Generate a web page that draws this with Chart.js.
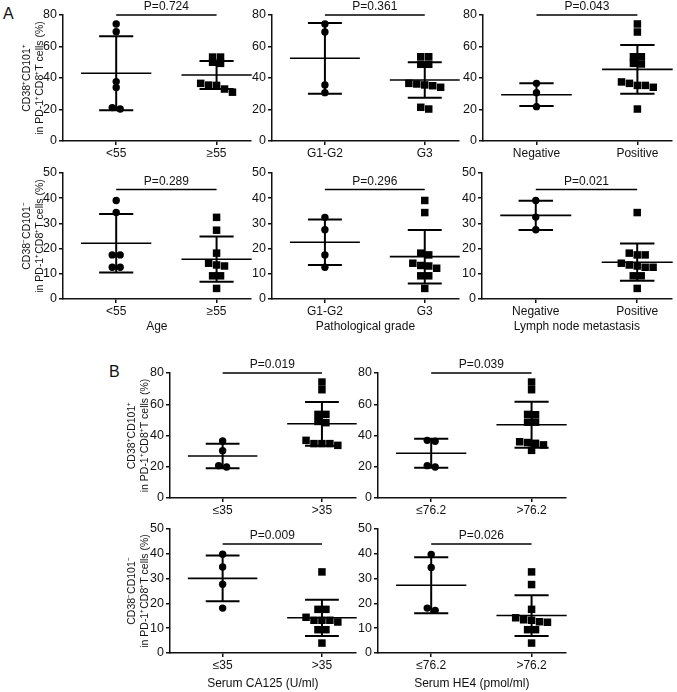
<!DOCTYPE html>
<html>
<head>
<meta charset="utf-8">
<script src="https://cdn.jsdelivr.net/npm/chart.js@4.4.1/dist/chart.umd.min.js"></script>
<style>
  body { margin: 0; background: #fff; }
  #fig { position: relative; width: 677px; height: 692px; overflow: hidden; font-family: "Liberation Sans", Arial, sans-serif; }
  #fig canvas { position: absolute; }
  .lbl { position: absolute; font-size: 16px; line-height: 1; color: #111; }
</style>
</head>
<body>
<div id="fig">
  <div class="lbl" style="left:3px;top:6px">A</div>
  <div class="lbl" style="left:109px;top:364px">B</div>
</div>
<script>
// categorias
const ageCats = ['<55', '≥55'];
const gradeCats = ['G1-G2', 'G3'];
const lymphCats = ['Negative', 'Positive'];
const ca125Cats = ['≤35', '>35'];
const he4Cats = ['≤76.2', '>76.2'];

// CD38+CD101+
const agePos1 = [74.3, 69.4, 37.7, 34.0, 21.2, 20.3];
const agePos2 = [53.3, 53.3, 50.0, 49.3, 36.6, 35.5, 35.3, 33.0, 31.0];
const agePosMean = [43.0, 41.9];
const agePosSd = [23.5, 8.9];
const agePosP = 'P=0.724';

const gradePos1 = [74.3, 69.2, 35.6, 30.7];
const gradePos2 = [53.5, 53.5, 48.7, 48.7, 36.6, 35.1, 34.1, 35.6, 36.2, 20.3, 21.4];
const gradePosMean = [52.5, 38.7];
const gradePosSd = [22.5, 11.3];
const gradePosP = 'P=0.361';

const lymphPos1 = [36.6, 30.7, 21.8];
const lymphPos2 = [74.3, 69.2, 53.5, 53.5, 48.9, 49.3, 36.6, 35.3, 34.1, 35.3, 37.5, 20.3];
const lymphPosMean = [29.4, 45.5];
const lymphPosSd = [7.2, 15.5];
const lymphPosP = 'P=0.043';

const ca125Pos1 = [36.5, 30.3, 19.8, 20.7];
const ca125Pos2 = [74.2, 69.3, 53.5, 53.5, 49.0, 48.2, 36.9, 34.8, 33.7, 34.8, 34.8];
const ca125PosMean = [26.9, 47.5];
const ca125PosSd = [7.8, 14.0];
const ca125PosP = 'P=0.019';

const he4Pos1 = [36.9, 36.3, 19.8, 20.7];
const he4Pos2 = [74.2, 69.3, 53.5, 53.3, 48.5, 48.5, 36.0, 35.5, 35.0, 34.0, 30.5];
const he4PosMean = [28.6, 46.9];
const he4PosSd = [9.3, 14.7];
const he4PosP = 'P=0.039';

// CD38-CD101-
const ageNeg1 = [39.1, 34.3, 17.5, 17.5, 12.6, 12.6];
const ageNeg2 = [32.4, 27.3, 18.2, 14.2, 13.1, 13.5, 9.2, 9.2, 4.2];
const ageNegMean = [22.1, 15.8];
const ageNegSd = [11.6, 9.0];
const ageNegP = 'P=0.289';

const gradeNeg1 = [32.4, 27.5, 17.5, 12.6];
const gradeNeg2 = [39.1, 34.3, 18.2, 17.5, 13.3, 12.2, 13.1, 14.2, 9.2, 9.2, 4.2];
const gradeNegMean = [22.5, 16.8];
const gradeNegSd = [9.0, 10.6];
const gradeNegP = 'P=0.296';

const lymphNeg1 = [39.1, 32.5, 27.5];
const lymphNeg2 = [34.3, 17.5, 17.5, 18.2, 14.2, 13.1, 12.6, 12.6, 13.5, 9.2, 9.2, 4.2];
const lymphNegMean = [33.2, 14.6];
const lymphNegSd = [5.8, 7.4];
const lymphNegP = 'P=0.021';

const ca125Neg1 = [39.8, 34.7, 27.7, 18.1];
const ca125Neg2 = [32.7, 17.6, 17.6, 14.4, 13.2, 12.5, 13.2, 13.2, 9.4, 9.4, 4.0];
const ca125NegMean = [30.1, 14.2];
const ca125NegSd = [9.2, 7.3];
const ca125NegP = 'P=0.009';

const he4Neg1 = [39.7, 34.5, 17.2, 18.1];
const he4Neg2 = [32.7, 27.6, 17.6, 14.2, 13.2, 12.4, 12.6, 13.4, 9.4, 9.4, 4.0];
const he4NegMean = [27.3, 15.1];
const he4NegSd = [11.3, 8.2];
const he4NegP = 'P=0.026';

const posTitle = ['CD38⁺CD101⁺', 'in PD-1⁺CD8⁺T cells (%)'];
const negTitle = ['CD38⁻CD101⁻', 'in PD-1⁺CD8⁺T cells (%)'];

Chart.defaults.font.family = '"Liberation Sans", Arial, sans-serif';
Chart.defaults.font.size = 12;
Chart.defaults.color = '#111';

// paineis: dados + posicao na figura
const panels = [
  { cats: ageCats, g1: agePos1, g2: agePos2, mean: agePosMean, sd: agePosSd, p: agePosP, pY: 80, max: 80, step: 20,
    x: 0, y: 0, yW: 63, plotW: 189, padTop: 15, plotH: 126, xH: 22, yTitle: posTitle, yTitlePad: 21 },
  { cats: gradeCats, g1: gradePos1, g2: gradePos2, mean: gradePosMean, sd: gradePosSd, p: gradePosP, pY: 80, max: 80, step: 20,
    x: 242, y: 0, yW: 30, plotW: 188, padTop: 15, plotH: 126, xH: 22 },
  { cats: lymphCats, g1: lymphPos1, g2: lymphPos2, mean: lymphPosMean, sd: lymphPosSd, p: lymphPosP, pY: 80, max: 80, step: 20,
    x: 453, y: 0, yW: 30, plotW: 190, padTop: 15, plotH: 126, xH: 22 },
  { cats: ageCats, g1: ageNeg1, g2: ageNeg2, mean: ageNegMean, sd: ageNegSd, p: ageNegP, pY: 43.5, max: 50, step: 10,
    x: 0, y: 163, yW: 63, plotW: 189, padTop: 10, plotH: 126, xH: 36, yTitle: negTitle, yTitlePad: 21, xTitle: 'Age', xTitlePad: 2 },
  { cats: gradeCats, g1: gradeNeg1, g2: gradeNeg2, mean: gradeNegMean, sd: gradeNegSd, p: gradeNegP, pY: 43.5, max: 50, step: 10,
    x: 242, y: 163, yW: 30, plotW: 188, padTop: 10, plotH: 126, xH: 36, xTitle: 'Pathological grade', xTitlePad: 2 },
  { cats: lymphCats, g1: lymphNeg1, g2: lymphNeg2, mean: lymphNegMean, sd: lymphNegSd, p: lymphNegP, pY: 43.5, max: 50, step: 10,
    x: 452, y: 163, yW: 30, plotW: 191, padTop: 10, plotH: 126, xH: 36, xTitle: 'Lymph node metastasis', xTitlePad: 2 },
  { cats: ca125Cats, g1: ca125Pos1, g2: ca125Pos2, mean: ca125PosMean, sd: ca125PosSd, p: ca125PosP, pY: 80, max: 80, step: 20,
    x: 95, y: 358, yW: 75, plotW: 187, padTop: 15, plotH: 125, xH: 22, yTitle: posTitle, yTitlePad: 31 },
  { cats: he4Cats, g1: he4Pos1, g2: he4Pos2, mean: he4PosMean, sd: he4PosSd, p: he4PosP, pY: 80, max: 80, step: 20,
    x: 348, y: 358, yW: 30, plotW: 189, padTop: 15, plotH: 125, xH: 22 },
  { cats: ca125Cats, g1: ca125Neg1, g2: ca125Neg2, mean: ca125NegMean, sd: ca125NegSd, p: ca125NegP, pY: 44, max: 50, step: 10,
    x: 95, y: 519, yW: 75, plotW: 187, padTop: 10, plotH: 124, xH: 38, yTitle: negTitle, yTitlePad: 31, xTitle: 'Serum CA125 (U/ml)', xTitlePad: 1 },
  { cats: he4Cats, g1: he4Neg1, g2: he4Neg2, mean: he4NegMean, sd: he4NegSd, p: he4NegP, pY: 44, max: 50, step: 10,
    x: 348, y: 519, yW: 30, plotW: 189, padTop: 10, plotH: 124, xH: 38, xTitle: 'Serum HE4 (pmol/ml)', xTitlePad: 1 }
];

const X_MIN = 0.47, X_MAX = 2.34;

// espalha pontos com valores proximos lado a lado (tipo beeswarm)
function swarm(vals, c, thr, step) {
  const idx = vals.map((v, i) => i).sort((a, b) => vals[b] - vals[a]);
  const out = [];
  let row = [];
  const flush = () => {
    row.forEach((i, k) => out.push({ x: c + (k - (row.length - 1) / 2) * step, y: vals[i] }));
    row = [];
  };
  idx.forEach(i => {
    if (row.length && vals[row[row.length - 1]] - vals[i] >= thr) flush();
    row.push(i);
  });
  flush();
  return out;
}

function seg(x1, y1, x2, y2, w) {
  return {
    data: [{ x: x1, y: y1 }, { x: x2, y: y2 }],
    showLine: true, borderColor: '#000', borderWidth: w,
    pointRadius: 0, clip: false, tension: 0
  };
}

function errBars(c, m, s) {
  return [
    seg(c - 0.35, m, c + 0.35, m, 1.6),
    seg(c - 0.17, m + s, c + 0.17, m + s, 2),
    seg(c - 0.17, m - s, c + 0.17, m - s, 2),
    seg(c, m - s, c, m + s, 2)
  ];
}

const pLabel = {
  id: 'pLabel',
  afterDatasetsDraw(chart, args, opts) {
    const { ctx, scales: { x, y } } = chart;
    ctx.save();
    ctx.font = '12px "Liberation Sans", Arial, sans-serif';
    ctx.fillStyle = '#111';
    ctx.textAlign = 'center';
    ctx.textBaseline = 'middle';
    ctx.fillText(opts.text, x.getPixelForValue(1.5), y.getPixelForValue(opts.y) - 8);
    ctx.restore();
  }
};

const fig = document.getElementById('fig');

panels.forEach(p => {
  const cv = document.createElement('canvas');
  const w = p.yW + p.plotW + 4;
  const h = p.padTop + p.plotH + p.xH;
  cv.width = w; cv.height = h;
  cv.style.left = p.x + 'px';
  cv.style.top = p.y + 'px';
  cv.style.width = w + 'px';
  cv.style.height = h + 'px';
  fig.appendChild(cv);

  const thr = 5 * p.max / p.plotH;
  const step = 8 * (X_MAX - X_MIN) / p.plotW;

  new Chart(cv, {
    type: 'scatter',
    data: {
      datasets: [
        ...errBars(1, p.mean[0], p.sd[0]),
        ...errBars(2, p.mean[1], p.sd[1]),
        seg(1, p.pY, 2, p.pY, 1.5),
        { data: swarm(p.g1, 1, thr, step), pointStyle: 'circle', pointRadius: 3.7,
          backgroundColor: '#000', borderWidth: 0, clip: false },
        { data: swarm(p.g2, 2, thr, step), pointStyle: 'rect', pointRadius: 5.3,
          backgroundColor: '#000', borderWidth: 0, clip: false }
      ]
    },
    options: {
      responsive: false,
      animation: false,
      devicePixelRatio: 1,
      events: [],
      layout: { padding: { top: p.padTop, right: 4, left: 0, bottom: 0 } },
      plugins: {
        legend: { display: false },
        tooltip: { enabled: false },
        pLabel: { text: p.p, y: p.pY }
      },
      scales: {
        x: {
          type: 'linear', min: X_MIN, max: X_MAX,
          afterBuildTicks: s => { s.ticks = [{ value: 1 }, { value: 2 }]; },
          afterFit: s => { s.height = p.xH; },
          ticks: { callback: v => p.cats[v - 1], padding: 1, maxRotation: 0, autoSkip: false, color: '#111' },
          grid: { drawOnChartArea: false, drawTicks: true, tickLength: 4, color: '#111', lineWidth: 1.5 },
          border: { color: '#111', width: 1.5 },
          title: { display: !!p.xTitle, text: p.xTitle || '', color: '#111', font: { size: 12, lineHeight: 1.1 },
                   padding: { top: 0, bottom: p.xTitlePad || 0 } }
        },
        y: {
          min: 0, max: p.max,
          afterFit: s => { s.width = p.yW; },
          ticks: { stepSize: p.step, padding: 2, color: '#111', font: { size: 12.5 } },
          grid: { drawOnChartArea: false, drawTicks: true, tickLength: 4, color: '#111', lineWidth: 1.5 },
          border: { color: '#111', width: 1.5 },
          title: { display: !!p.yTitle, text: p.yTitle || '', color: '#111', font: { size: 10.5, lineHeight: 1.2 },
                   padding: { top: p.yTitlePad || 0, bottom: 0 } }
        }
      }
    },
    plugins: [pLabel]
  });
});
</script>
</body>
</html>
